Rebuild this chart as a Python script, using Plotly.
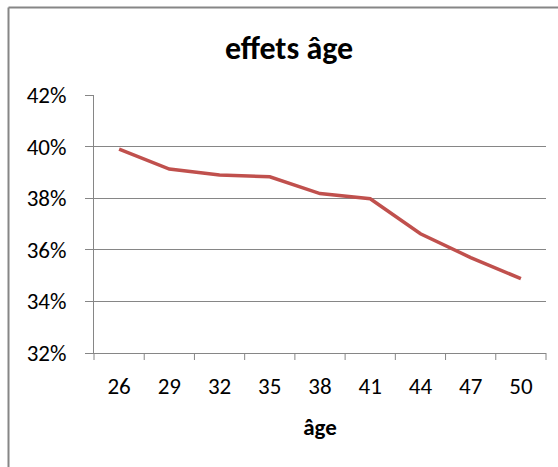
import plotly.graph_objects as go

ages = ["26", "29", "32", "35", "38", "41", "44", "47", "50"]
effets = [0.399, 0.3913, 0.389, 0.3883, 0.3818, 0.3798, 0.3662, 0.357, 0.3488]
y_ticks = [0.32, 0.34, 0.36, 0.38, 0.40, 0.42]
y_tick_labels = ["32%", "34%", "36%", "38%", "40%", "42%"]

W, H = 558, 467
L, R, T, B = 94, 12, 95, 114
pw, ph = W - L - R, H - T - B

def px(x):
    return (x - L) / pw

def py(y):
    return (H - B - y) / ph

font_family = "Carlito, Calibri, Lato, 'Open Sans', sans-serif"
grey = "#868686"

fig = go.Figure()
fig.add_trace(go.Scatter(
    x=ages, y=effets, mode="lines",
    line=dict(color="#C0504D", width=3.5),
    hoverinfo="skip", showlegend=False,
))

fig.update_layout(
    width=W, height=H,
    margin=dict(l=L, r=R, t=T, b=B),
    paper_bgcolor="white", plot_bgcolor="white",
    font=dict(family=font_family, size=23, color="#000000"),
    title=dict(text="<b>effets âge</b>", x=289 / W, xanchor="center",
               y=1 - 48 / H, yanchor="middle",
               font=dict(size=32, family=font_family)),
    xaxis=dict(
        type="category", showgrid=False,
        showline=True, linecolor=grey, linewidth=1,
        ticks="outside", ticklen=0, ticklabelstandoff=12,
        tickfont=dict(size=23),
        title=dict(text="<b>âge</b>", font=dict(size=23), standoff=20),
        range=[-0.5, len(ages) - 0.5],
    ),
    yaxis=dict(
        range=[0.32, 0.42], tickvals=y_ticks, ticktext=y_tick_labels,
        showgrid=True, gridcolor=grey, gridwidth=1,
        showline=True, linecolor=grey, linewidth=1,
        ticks="outside", ticklen=8, tickcolor=grey,
        ticklabelstandoff=14,
        tickfont=dict(size=23), zeroline=False,
    ),
)

# category boundary tick marks below the x axis
for i in range(len(ages) + 1):
    xv = px(L + i * pw / len(ages))
    fig.add_shape(type="line", xref="paper", yref="paper",
                  x0=xv, x1=xv, y0=0, y1=py(H - B + 7),
                  line=dict(color=grey, width=1))

# chart area border (top and left edges)
fig.add_shape(type="line", xref="paper", yref="paper",
              x0=px(8.5), x1=px(W + 5), y0=py(7.5), y1=py(7.5),
              line=dict(color=grey, width=2), layer="above")
fig.add_shape(type="line", xref="paper", yref="paper",
              x0=px(8.5), x1=px(8.5), y0=py(7.5), y1=py(H + 5),
              line=dict(color=grey, width=2), layer="above")

fig.write_html("out.html")
